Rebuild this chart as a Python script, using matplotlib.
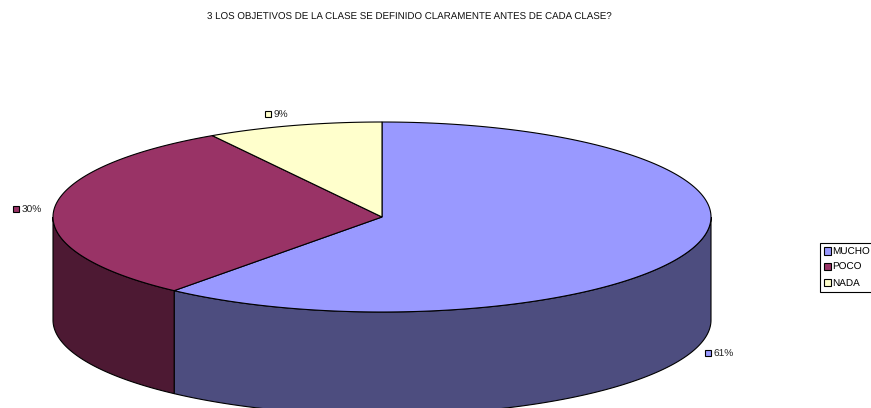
import numpy as np
import matplotlib
matplotlib.use("Agg")
import matplotlib.pyplot as plt
from matplotlib.patches import Patch, Polygon, Rectangle

# Datos de la grafica
title = "3 LOS OBJETIVOS DE LA CLASE SE DEFINIDO CLARAMENTE ANTES DE CADA CLASE?"
categories = ["MUCHO", "POCO", "NADA"]
values = [60.7, 30.4, 8.6]
top_colors = ["#9999FF", "#993366", "#FFFFCC"]
side_colors = ["#4D4D7F", "#4D1933", "#808066"]
label_pos = [(712, 353), (20, 209), (272, 114)]

plt.rcParams["font.family"] = ["Liberation Sans", "DejaVu Sans"]
plt.rcParams["text.hinting"] = "none"

W, H = 871, 408
cx, cy, rx, ry, depth = 382, 217, 329, 95, 103


def rim(a0, a1, dy=0):
    # angulos en grados, horario desde arriba
    t = np.radians(np.linspace(a0, a1, 200))
    return np.column_stack([cx + rx * np.sin(t), cy - ry * np.cos(t) + dy])


fig = plt.figure(figsize=(W / 100, H / 100), dpi=100)
ax = fig.add_axes([0, 0, 1, 1])
ax.set_xlim(0, W)
ax.set_ylim(H, 0)
ax.axis("off")

edges = np.concatenate([[0], np.cumsum(values) / np.sum(values) * 360])

# Caras laterales (solo la mitad delantera, 90 a 270 grados)
for i in range(len(values)):
    a0, a1 = max(edges[i], 90), min(edges[i + 1], 270)
    if a0 < a1:
        pts = np.vstack([rim(a0, a1), rim(a1, a0, depth)])
        ax.add_patch(Polygon(pts, closed=True, fc=side_colors[i], ec="black", lw=0.8))

# Cara superior
for i in range(len(values)):
    pts = np.vstack([[cx, cy], rim(edges[i], edges[i + 1])])
    ax.add_patch(Polygon(pts, closed=True, fc=top_colors[i], ec="black", lw=0.8))

# Etiquetas con cuadrito de color
for i, (x, y) in enumerate(label_pos):
    ax.add_patch(Rectangle((x - 7, y - 3), 6, 6, fc=top_colors[i], ec="black", lw=0.8))
    ax.text(x + 1.5, y + 1, f"{values[i]:.0f}%", fontsize=7.3, color="#222222", ha="left", va="center")

ax.text(409, 17, title, fontsize=7.0, color="#111111", ha="center", va="center")

handles = [Patch(fc=c, ec="black", lw=0.8) for c in top_colors]
leg = ax.legend(handles, categories, loc="upper left", bbox_to_anchor=(820 / W, 1 - 243 / H),
                bbox_transform=fig.transFigure, fontsize=7.2, frameon=True, fancybox=False,
                edgecolor="black", framealpha=1, borderpad=0.42, borderaxespad=0,
                handlelength=0.72, handleheight=0.72, handletextpad=0.1, labelspacing=0.64)
leg.get_frame().set_linewidth(0.8)

fig.savefig("out.png", dpi=100)
